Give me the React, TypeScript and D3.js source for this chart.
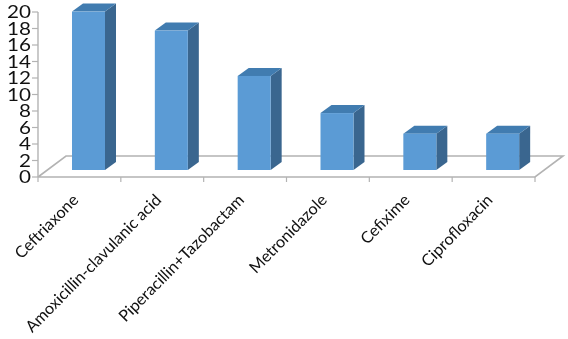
import React, {useEffect, useRef} from 'react';
import * as d3 from 'd3';

const drugs = ['Ceftriaxone', 'Amoxicillin-clavulanic acid', 'Piperacillin+Tazobactam', 'Metronidazole', 'Cefixime', 'Ciprofloxacin'];
const percents = [19.2, 16.9, 11.4, 6.9, 4.4, 4.4];
const yTicks = [0, 2, 4, 6, 8, 10, 12, 14, 16, 18, 20];

const App = () => {
    const ref = useRef<SVGSVGElement>(null);

    useEffect(() => {
        const svg = d3.select(ref.current);
        svg.selectAll("*").remove();

        const width = 568;
        const height = 339;
        const left = 38;
        const floorRight = 535;
        const depthX = 28;
        const depthY = 21;
        const barDepthX = 11;
        const barDepthY = 8;
        const gridColor = "#b3b3b3";

        const x = d3.scaleBand<string>()
            .domain(drugs)
            .range([left, floorRight]);
        const y = d3.scaleLinear()
            .domain([0, 20])
            .range([177, 12]);

        // floor
        svg.append("path")
            .attr("d", `M${left},${y(0)}L${left + depthX},${y(0) - depthY}H${floorRight + depthX}L${floorRight},${y(0)}H${left}`)
            .attr("fill", "none")
            .attr("stroke", gridColor)
            .attr("stroke-width", 1.6);

        // value axis
        svg.append("path")
            .attr("d", `M${left},${y(20)}V${y(0)}`)
            .attr("fill", "none")
            .attr("stroke", gridColor)
            .attr("stroke-width", 1.4);

        svg.selectAll(".tick-y")
            .data(yTicks)
            .enter().append("line")
            .attr("x1", left - 6)
            .attr("x2", left)
            .attr("y1", d => y(d))
            .attr("y2", d => y(d))
            .attr("stroke", gridColor)
            .attr("stroke-width", 1.2);

        // tick labels are stretched sideways in the original
        svg.selectAll(".label-y")
            .data(yTicks)
            .enter().append("text")
            .attr("transform", d => `translate(31,${y(d) + 6}) scale(1.25,1)`)
            .attr("text-anchor", "end")
            .attr("font-family", "Lato, sans-serif")
            .attr("font-size", 16.5)
            .attr("fill", "#111")
            .text(d => d);

        // category ticks
        const tickXs = drugs.map(d => x(d)!).concat(floorRight);
        svg.selectAll(".tick-x")
            .data(tickXs)
            .enter().append("line")
            .attr("x1", d => d)
            .attr("x2", d => d)
            .attr("y1", y(0))
            .attr("y2", y(0) + 5)
            .attr("stroke", gridColor)
            .attr("stroke-width", 1.2);

        // 3d bars
        const barWidth = 33;
        const bars = svg.selectAll(".bar")
            .data(drugs.map((name, i) => ({name, value: percents[i]})))
            .enter().append("g")
            .attr("class", "bar");

        const barX = (name: string) => x(name)! + 34;
        const base = y(0) - 7;
        const top = (v: number) => base - (y(0) - y(v));

        bars.append("path")
            .attr("d", d => `M${barX(d.name) + barWidth},${top(d.value)}l${barDepthX},${-barDepthY}V${base - barDepthY}l${-barDepthX},${barDepthY}Z`)
            .attr("fill", "#3a668f");
        bars.append("path")
            .attr("d", d => `M${barX(d.name)},${top(d.value)}l${barDepthX},${-barDepthY}h${barWidth}l${-barDepthX},${barDepthY}Z`)
            .attr("fill", "#417cb0");
        bars.append("rect")
            .attr("x", d => barX(d.name))
            .attr("y", d => top(d.value))
            .attr("width", barWidth)
            .attr("height", d => base - top(d.value))
            .attr("fill", "#5b9bd5");

        // rotated category labels
        svg.selectAll(".label-x")
            .data(drugs)
            .enter().append("text")
            .attr("transform", d => `translate(${x(d)! + x.bandwidth() / 2},${201}) rotate(-45.5)`)
            .attr("text-anchor", "end")
            .attr("font-family", "Lato, sans-serif")
            .attr("font-size", 16.2)
            .attr("fill", "#111")
            .text(d => d);

        svg.attr("viewBox", `0 0 ${width} ${height}`);
    }, []);

    return (
        <svg ref={ref} width={568} height={339} style={{position: 'absolute', left: 0, top: 0, background: '#fff', filter: 'blur(0.4px)'}}/>
    );
};

export default App;
